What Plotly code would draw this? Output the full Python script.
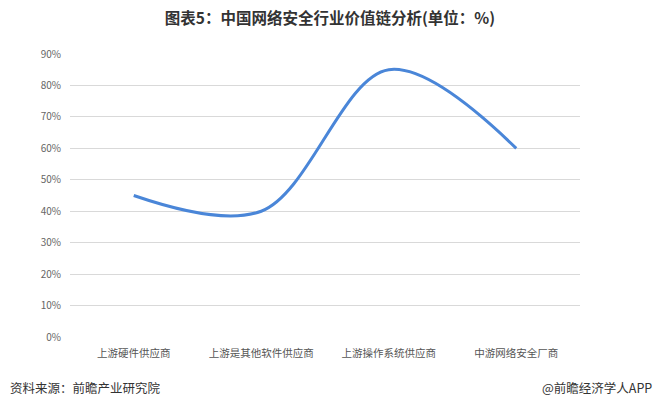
import plotly.graph_objects as go

categories = ["上游硬件供应商", "上游是其他软件供应商", "上游操作系统供应商", "中游网络安全厂商"]
values = [45, 40, 85, 60]
y_ticks = [0, 10, 20, 30, 40, 50, 60, 70, 80, 90]
y_tick_labels = [f"{v}%" for v in y_ticks]

FONT = "Noto Sans CJK SC, Microsoft YaHei, sans-serif"
W, H = 660, 409
L, R, T, B = 70, 80, 54, 72
PW, PH = W - L - R, H - T - B

fig = go.Figure()
fig.add_trace(go.Scatter(
    x=categories, y=values, mode="lines",
    line=dict(color="#4a86d8", width=3, shape="spline", smoothing=1.0),
    hoverinfo="x+y",
))

fig.update_layout(
    width=W, height=H,
    margin=dict(l=L, r=R, t=T, b=B),
    paper_bgcolor="white", plot_bgcolor="white",
    showlegend=False,
    title=dict(text="<b>图表5：中国网络安全行业价值链分析(单位：%)</b>",
               x=0.5, xanchor="center", y=1 - 19 / H, yanchor="middle",
               font=dict(family=FONT, size=15.5, color="#333333")),
    xaxis=dict(showgrid=False, showline=False, zeroline=False,
               tickfont=dict(family=FONT, size=10.5, color="#555555"),
               ticks="", ticklabelstandoff=8, range=[-0.5, 3.5]),
    yaxis=dict(range=[0, 90], tickvals=y_ticks, ticktext=y_tick_labels,
               showgrid=True, gridcolor="#d9d9d9", gridwidth=1,
               zeroline=False, showline=False, ticks="", ticklabelstandoff=8,
               tickfont=dict(family=FONT, size=10, color="#666666")),
)
fig.add_annotation(text="资料来源：前瞻产业研究院", xref="paper", yref="paper",
                   x=(8 - L) / PW, y=-(387 - (T + PH)) / PH, xanchor="left", yanchor="middle",
                   showarrow=False, font=dict(family=FONT, size=12.5, color="#333333"))
fig.add_annotation(text="@前瞻经济学人APP", xref="paper", yref="paper",
                   x=(654 - L) / PW, y=-(387 - (T + PH)) / PH, xanchor="right", yanchor="middle",
                   showarrow=False, font=dict(family=FONT, size=12.5, color="#333333"))

fig.write_html("out.html", config={"displayModeBar": False},
               post_script="document.body.style.margin='0';")
